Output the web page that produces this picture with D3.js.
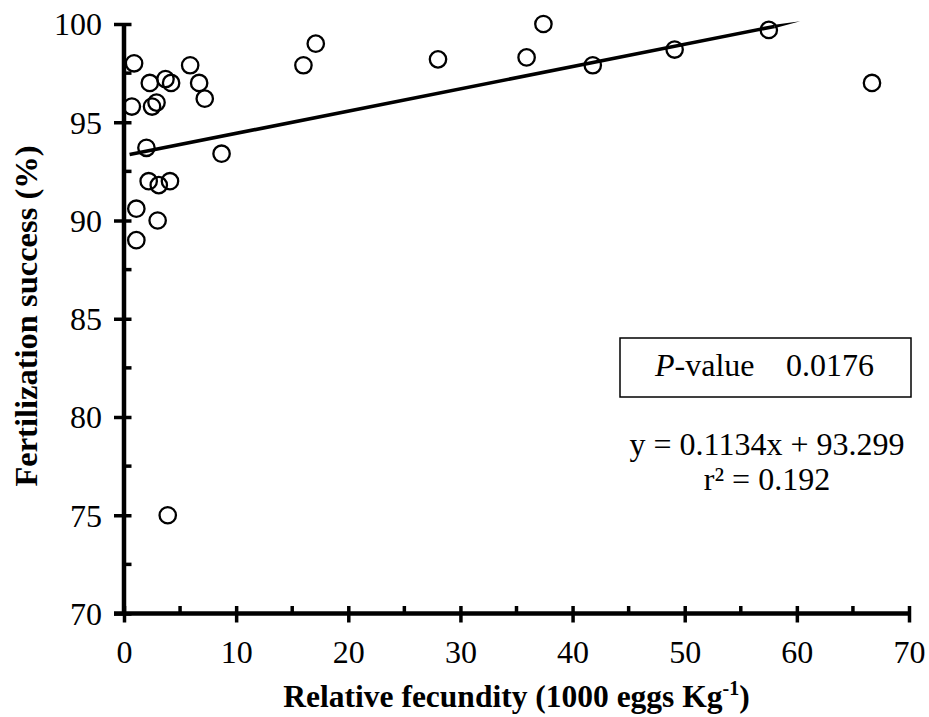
<!DOCTYPE html>
<html>
<head>
<meta charset="utf-8">
<script src="https://cdn.jsdelivr.net/npm/d3@7/dist/d3.min.js"></script>
<style>
  body { margin: 0; background: #fff; }
  svg text { font-family: "Liberation Serif", "Times New Roman", serif; fill: #000; }
</style>
</head>
<body>
<svg id="chart" width="929" height="717"></svg>
<script>
// Relative fecundity (1000 eggs per kg) and fertilization success (%) per female
const fecundity = [0.9, 2.3, 3.7, 4.2, 5.9, 6.7, 7.2, 0.7, 2.5, 2.9,
                   2.0, 8.7, 2.2, 3.1, 4.1, 1.1, 3.0, 1.1, 3.9,
                   16.0, 17.1, 28.0, 35.9, 37.4, 41.8, 49.1, 57.5, 66.7];
const fertilization = [98.0, 97.0, 97.2, 97.0, 97.9, 97.0, 96.2, 95.8, 95.8, 96.0,
                       93.7, 93.4, 92.0, 91.8, 92.0, 90.6, 90.0, 89.0, 75.0,
                       97.9, 99.0, 98.2, 98.3, 100.0, 97.9, 98.7, 99.7, 97.0];

// Axis ticks
const xMajorTicks = [0, 10, 20, 30, 40, 50, 60, 70];
const xMinorTicks = [5, 15, 25, 35, 45, 55, 65];
const yMajorTicks = [70, 75, 80, 85, 90, 95, 100];
const yMinorTicks = [72.5, 77.5, 82.5, 87.5, 92.5, 97.5];

// Linear fit
const slope = 0.1134;
const intercept = 93.299;
const fitStart = 0.5;
const fitTaper = 58.0;
const fitEnd = 60.3;
const rSquared = "0.192";
const pValue = "0.0176";

const svg = d3.select("#chart");

const x = d3.scaleLinear().domain([0, 70]).range([124, 909]);
const y = d3.scaleLinear().domain([70, 100]).range([613.5, 24]);

const axisStroke = 4.5;
const tickStroke = 3.5;
const tickFont = 32;

// Y axis
const yAxis = svg.append("g")
  .attr("transform", `translate(${x(0)},0)`)
  .call(d3.axisLeft(y).tickValues(yMajorTicks).tickSize(10).tickPadding(10).tickFormat(d3.format("d")));
yAxis.select(".domain").remove();
yAxis.selectAll(".tick line").attr("x1", -10).attr("x2", 7.5)
  .attr("stroke", "#000").attr("stroke-width", tickStroke);
yAxis.selectAll(".tick text").attr("font-size", tickFont).attr("x", -22).attr("dy", "0.34em");
yAxis.append("g").selectAll("line").data(yMinorTicks).join("line")
  .attr("x1", 0).attr("x2", 7.5).attr("y1", d => y(d)).attr("y2", d => y(d))
  .attr("stroke", "#000").attr("stroke-width", tickStroke);
yAxis.append("line")
  .attr("x1", 0).attr("x2", 0).attr("y1", y(100)).attr("y2", y(70))
  .attr("stroke", "#000").attr("stroke-width", axisStroke);

// X axis
const xAxis = svg.append("g")
  .attr("transform", `translate(0,${y(70)})`)
  .call(d3.axisBottom(x).tickValues(xMajorTicks).tickSize(9).tickPadding(8).tickFormat(d3.format("d")));
xAxis.select(".domain").remove();
xAxis.selectAll(".tick line").attr("y1", -7.5).attr("y2", 9)
  .attr("stroke", "#000").attr("stroke-width", tickStroke);
xAxis.selectAll(".tick text").attr("font-size", tickFont).attr("y", 0).attr("dy", 49.5);
xAxis.append("g").selectAll("line").data(xMinorTicks).join("line")
  .attr("x1", d => x(d)).attr("x2", d => x(d)).attr("y1", -7.5).attr("y2", 0)
  .attr("stroke", "#000").attr("stroke-width", tickStroke);
xAxis.append("line")
  .attr("x1", x(0) - 10).attr("x2", x(70)).attr("y1", 0).attr("y2", 0)
  .attr("stroke", "#000").attr("stroke-width", axisStroke);

// Axis titles
const xTitle = svg.append("text")
  .attr("x", (x(0) + x(70)) / 2).attr("y", 707)
  .attr("text-anchor", "middle").attr("font-size", 31.5).attr("font-weight", "bold");
xTitle.append("tspan").text("Relative fecundity (1000 eggs Kg");
xTitle.append("tspan").attr("font-size", 20).attr("dy", -12).text("-1");
xTitle.append("tspan").attr("dy", 12).text(")");

svg.append("text")
  .attr("transform", `translate(37,316) rotate(-90)`)
  .attr("text-anchor", "middle").attr("font-size", 32.5).attr("font-weight", "bold")
  .text("Fertilization success (%)");

// Regression line, tapering at its far end
const fit = v => slope * v + intercept;
svg.append("line")
  .attr("x1", x(fitStart)).attr("y1", y(fit(fitStart)))
  .attr("x2", x(fitTaper)).attr("y2", y(fit(fitTaper)))
  .attr("stroke", "#000").attr("stroke-width", 3.6);
const half = 1.8;
svg.append("path")
  .attr("d", `M${x(fitTaper)},${y(fit(fitTaper)) - half}L${x(fitEnd)},${y(fit(fitEnd))}L${x(fitTaper)},${y(fit(fitTaper)) + half}Z`)
  .attr("fill", "#000");

// Observations
svg.append("g").selectAll("circle")
  .data(fecundity.map((f, i) => [f, fertilization[i]]))
  .join("circle")
  .attr("cx", d => x(d[0])).attr("cy", d => y(d[1]))
  .attr("r", 8.2)
  .attr("fill", "none").attr("stroke", "#000").attr("stroke-width", 2.3);

// Statistics box
svg.append("rect")
  .attr("x", 620).attr("y", 338).attr("width", 291).attr("height", 59)
  .attr("fill", "none").attr("stroke", "#000").attr("stroke-width", 1.5);
const pText = svg.append("text").attr("x", 655).attr("y", 376).attr("font-size", 32);
pText.append("tspan").attr("font-style", "italic").text("P");
pText.append("tspan").text("-value");
svg.append("text").attr("x", 786).attr("y", 376).attr("font-size", 32).text(pValue);

svg.append("text").attr("x", 767).attr("y", 455).attr("text-anchor", "middle").attr("font-size", 32)
  .text(`y = ${slope}x + ${intercept}`);
svg.append("text").attr("x", 767).attr("y", 490).attr("text-anchor", "middle").attr("font-size", 32)
  .text(`r² = ${rSquared}`);
</script>
</body>
</html>
